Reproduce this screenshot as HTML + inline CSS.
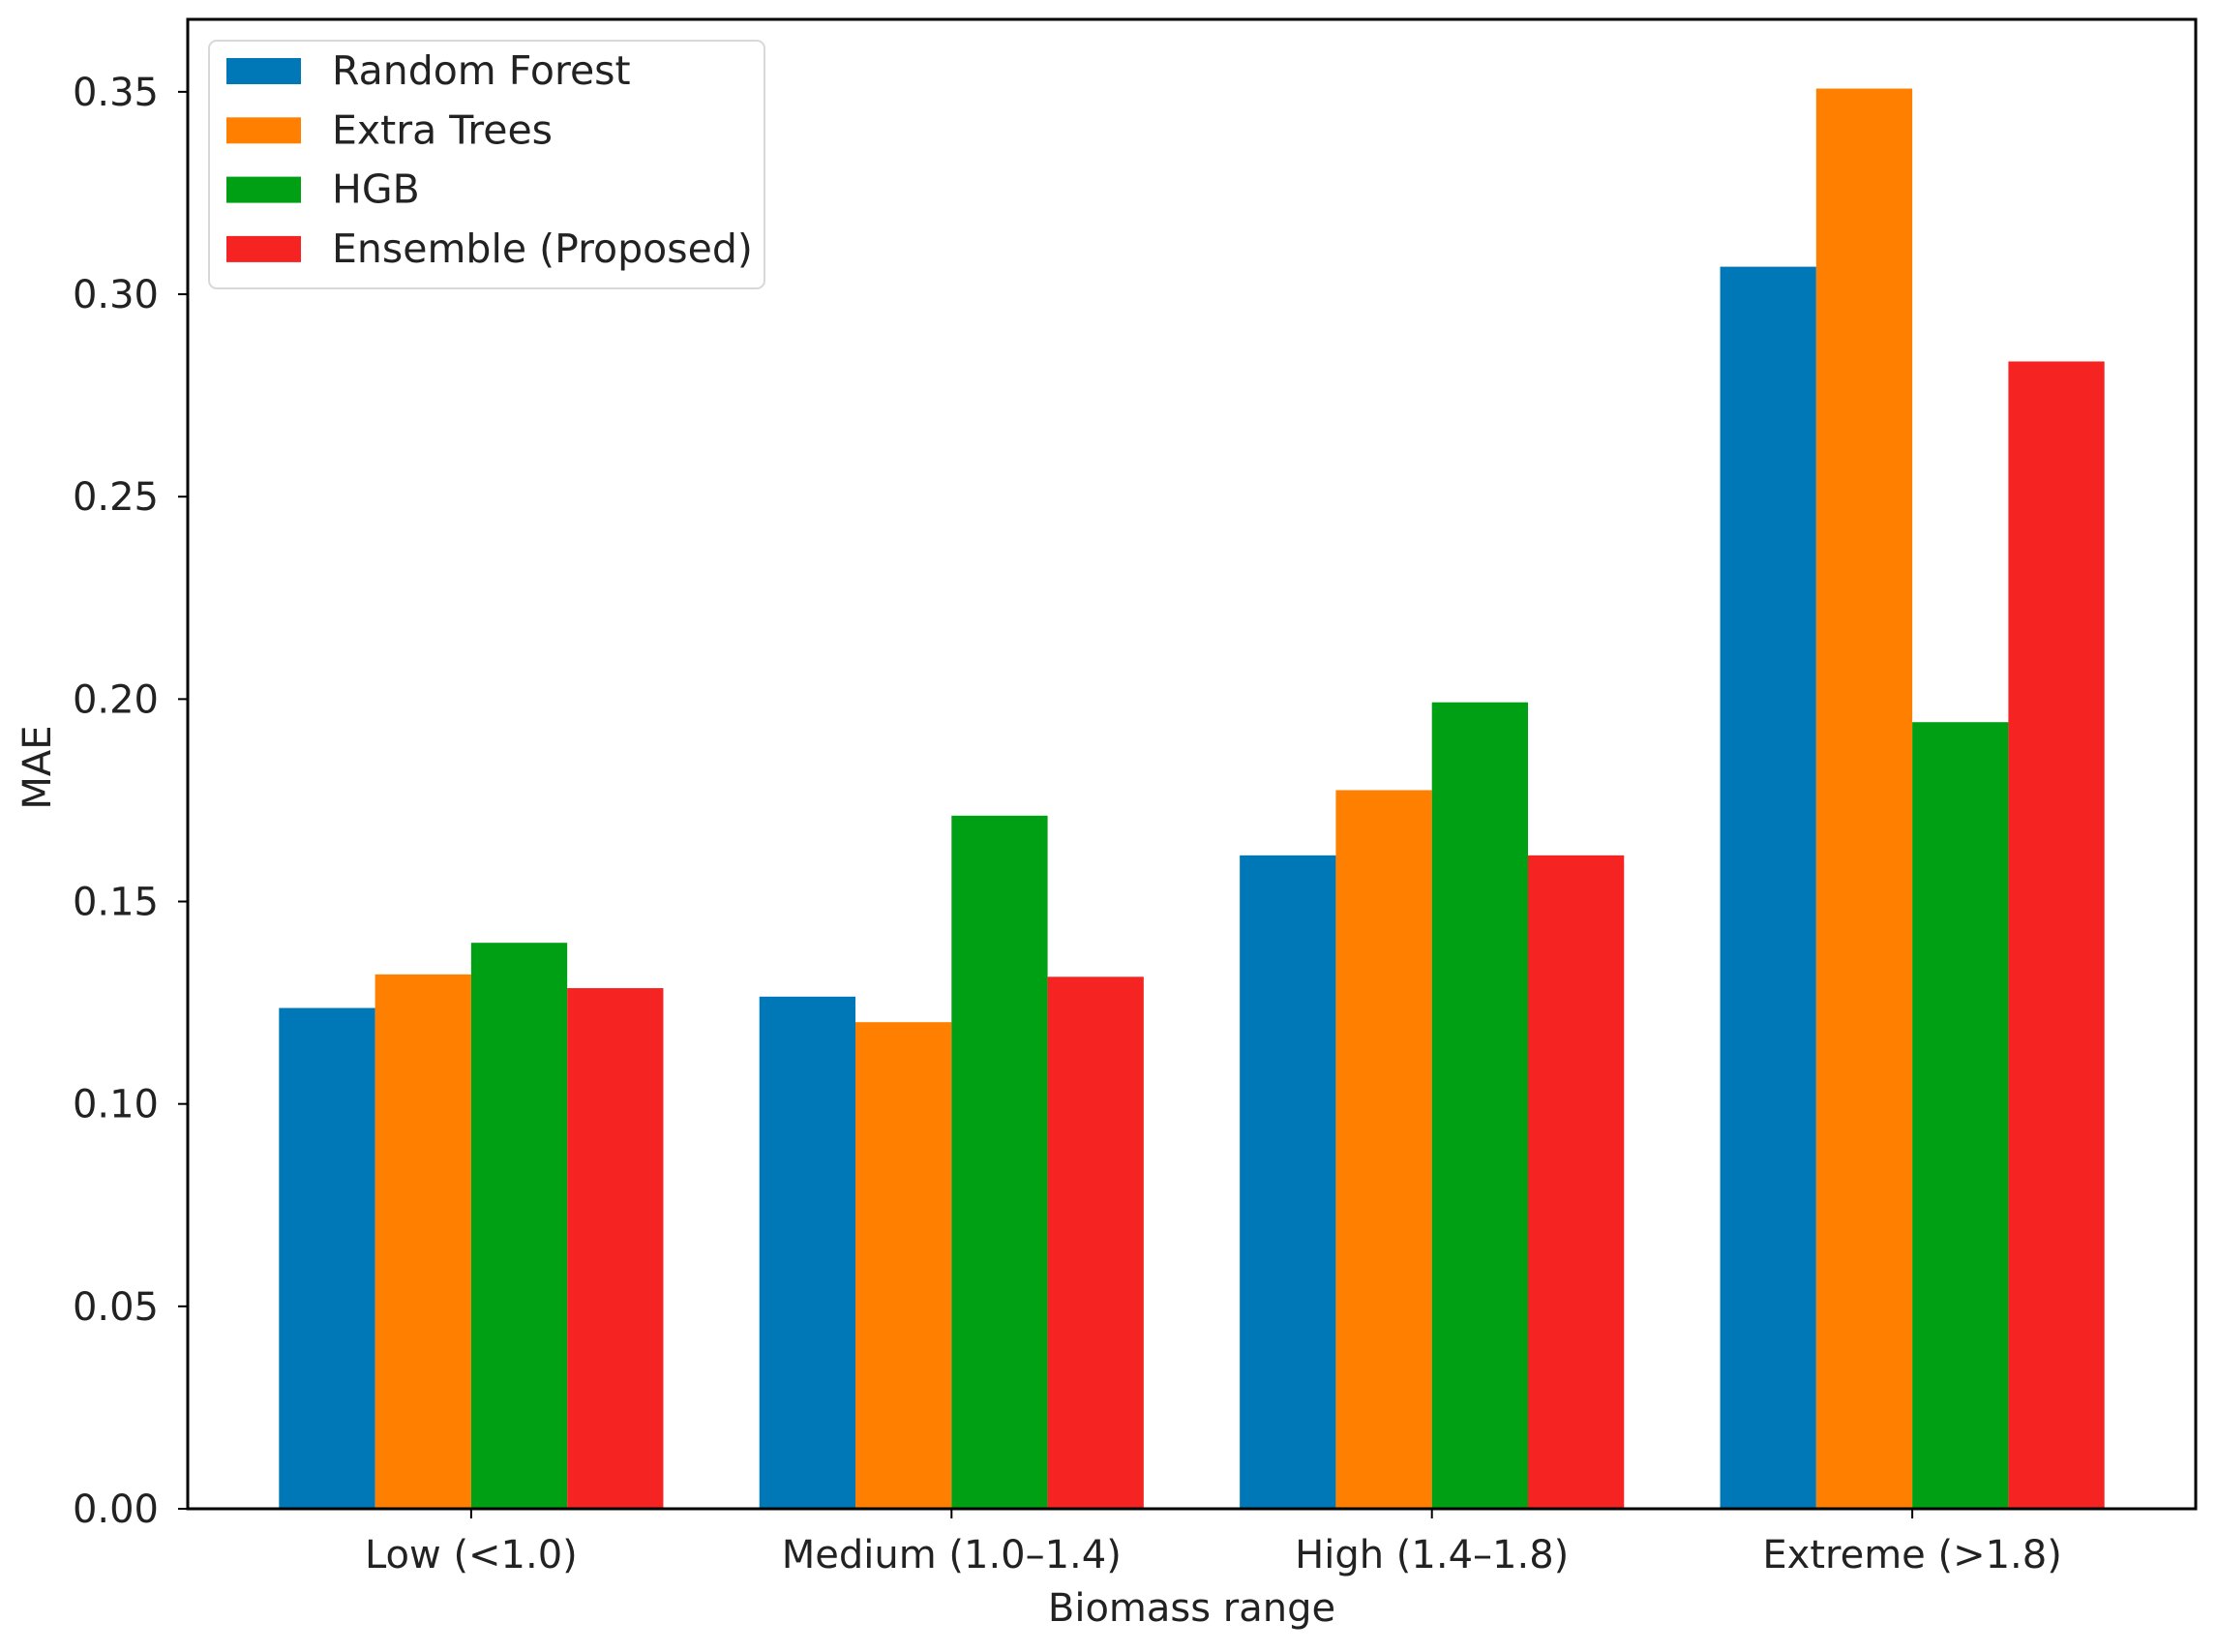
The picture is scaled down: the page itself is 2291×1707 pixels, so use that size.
<!DOCTYPE html>
<html><head><meta charset="utf-8"><style>
html,body{margin:0;padding:0;background:#fff;}
svg{display:block;font-family:"DejaVu Sans","Liberation Sans",sans-serif;}
</style></head>
<body>
<svg id="chart" width="2291" height="1707" viewBox="0 0 2291 1707">
<g id="bars"></g>
<g id="axes"></g>
<g id="legend"></g>
</svg>
<script>
const categories = ["Low (<1.0)", "Medium (1.0\u20131.4)", "High (1.4\u20131.8)", "Extreme (>1.8)"];
const seriesNames = ["Random Forest", "Extra Trees", "HGB", "Ensemble (Proposed)"];
const seriesColors = ["#0077b6", "#ff7f00", "#00a014", "#f62323"];
const rfValues = [0.1237, 0.1265, 0.1614, 0.3068];
const etValues = [0.1320, 0.1202, 0.1775, 0.3508];
const hgbValues = [0.1398, 0.1712, 0.1992, 0.1943];
const ensValues = [0.1286, 0.1314, 0.1614, 0.2834];
const yTicks = [0, 0.05, 0.10, 0.15, 0.20, 0.25, 0.30, 0.35];
const yTickLabels = ["0.00", "0.05", "0.10", "0.15", "0.20", "0.25", "0.30", "0.35"];

const NS = "http://www.w3.org/2000/svg";
const L = 194, R = 2269, T = 20, B = 1559;
const xMin = -0.59, xMax = 3.59, yMin = 0, yMax = 0.3679;
function xs(v){ return L + (v - xMin) / (xMax - xMin) * (R - L); }
function ys(v){ return B - (v - yMin) / (yMax - yMin) * (B - T); }
function mk(tag, attrs, parent){
  const e = document.createElementNS(NS, tag);
  for (const k in attrs) e.setAttribute(k, attrs[k]);
  parent.appendChild(e);
  return e;
}
const allSeries = [rfValues, etValues, hgbValues, ensValues];
const barsG = document.getElementById('bars');
const w = 0.2;
allSeries.forEach((vals, s) => {
  vals.forEach((v, i) => {
    const x0 = i + (s - 1.5) * w - w / 2;
    const r = mk('rect', {x: xs(x0), y: ys(v), width: xs(x0 + w) - xs(x0), height: ys(0) - ys(v), fill: seriesColors[s]}, barsG);
    
    
  });
});
const axG = document.getElementById('axes');
const frame = mk('rect', {x: L, y: T, width: R - L, height: B - T, fill: 'none', stroke: '#000', 'stroke-width': 3}, axG);


yTicks.forEach((v, i) => {
  const y = ys(v);
  mk('line', {x1: L - 10, x2: L, y1: y, y2: y, stroke: '#000', 'stroke-width': 2}, axG);
  const t = mk('text', {x: L - 30, y: y + 14, 'text-anchor': 'end', 'font-size': 40, fill: '#222'}, axG);
  t.textContent = yTickLabels[i];
  
  
});
categories.forEach((c, i) => {
  const x = xs(i);
  mk('line', {x1: x, x2: x, y1: B, y2: B + 10, stroke: '#000', 'stroke-width': 2}, axG);
  const t = mk('text', {x: x, y: B + 61, 'text-anchor': 'middle', 'font-size': 40, fill: '#222'}, axG);
  t.textContent = c;
  
  
});
const xl = mk('text', {x: (L + R) / 2, y: 1675, 'text-anchor': 'middle', 'font-size': 40, fill: '#222'}, axG);
xl.textContent = 'Biomass range';


const yl = mk('text', {x: 0, y: 0, 'text-anchor': 'middle', 'font-size': 40, fill: '#222', transform: 'translate(52,793) rotate(-90)'}, axG);
yl.textContent = 'MAE';



const lg = document.getElementById('legend');
const box = mk('rect', {x: 216, y: 42, width: 574, height: 256, rx: 8, fill: '#fff', 'fill-opacity': 0.9, stroke: '#d8d8d8', 'stroke-width': 2}, lg);


seriesNames.forEach((n, i) => {
  const cy = 73 + i * 61.3;
  const p = mk('rect', {x: 234, y: cy - 13, width: 77, height: 27, fill: seriesColors[i]}, lg);
  
  
  const t = mk('text', {x: 343, y: cy + 14, 'font-size': 41, fill: '#222'}, lg);
  t.textContent = n;
  
  
});
</script>
</body></html>
